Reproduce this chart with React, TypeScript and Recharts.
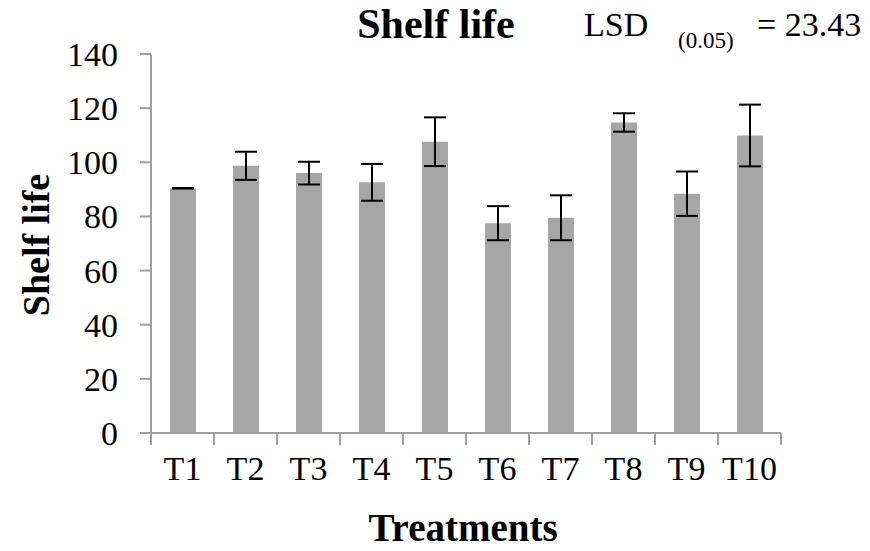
import { BarChart, Bar, XAxis, YAxis, ErrorBar } from "recharts";

const treatments = ["T1", "T2", "T3", "T4", "T5", "T6", "T7", "T8", "T9", "T10"];
const shelfLife = [90.4, 98.7, 96.0, 92.6, 107.6, 77.5, 79.5, 114.7, 88.4, 109.9];
const errors = [0.1, 5.2, 4.2, 6.8, 9.0, 6.3, 8.3, 3.4, 8.2, 11.4];
const yTicks = [0, 20, 40, 60, 80, 100, 120, 140];

const data = treatments.map((t, i) => ({ name: t, value: shelfLife[i], err: errors[i] }));

const SERIF = '"Liberation Serif", "Times New Roman", serif';
const AXIS = "#a0a0a0";
const PLOT_BOTTOM = 433;

function CategoryTick(props: any) {
  const { x, payload, index } = props;
  const half = payload?.offset || 31.5;
  return (
    <g>
      <line x1={x - half} y1={PLOT_BOTTOM} x2={x - half} y2={PLOT_BOTTOM + 12} stroke={AXIS} strokeWidth={2} />
      {index === treatments.length - 1 && (
        <line x1={x + half} y1={PLOT_BOTTOM} x2={x + half} y2={PLOT_BOTTOM + 12} stroke={AXIS} strokeWidth={2} />
      )}
      <text x={x} y={480} textAnchor="middle" fontFamily={SERIF} fontSize={34} fill="#000">
        {payload.value}
      </text>
    </g>
  );
}

const textBase = {
  position: "absolute" as const,
  fontFamily: SERIF,
  whiteSpace: "nowrap" as const,
  lineHeight: 1,
  color: "#000",
};

export default function App() {
  return (
    <div style={{ position: "absolute", left: 0, top: 0, width: 870, height: 551, background: "#fff" }}>
      <BarChart
        width={870}
        height={551}
        data={data}
        margin={{ top: 54, right: 89, left: 0, bottom: 0 }}
      >
        <XAxis
          dataKey="name"
          height={118}
          tickLine={false}
          axisLine={{ stroke: AXIS, strokeWidth: 2 }}
          tick={<CategoryTick />}
          interval={0}
        />
        <YAxis
          width={151}
          domain={[0, 140]}
          ticks={yTicks}
          tickSize={11}
          tickMargin={22}
          tickLine={{ stroke: AXIS, strokeWidth: 2 }}
          axisLine={{ stroke: AXIS, strokeWidth: 2 }}
          tick={{ fontFamily: SERIF, fontSize: 34, fill: "#000" }}
        />
        <Bar dataKey="value" fill="#a6a6a6" barSize={26} isAnimationActive={false}>
          <ErrorBar dataKey="err" width={11} stroke="#000" strokeWidth={2} isAnimationActive={false} />
        </Bar>
      </BarChart>
      <div style={{ ...textBase, left: 436, top: 3, transform: "translateX(-50%)", fontWeight: "bold", fontSize: 42 }}>
        Shelf life
      </div>
      <div style={{ ...textBase, left: 584, top: 8, fontSize: 34 }}>LSD</div>
      <div style={{ ...textBase, left: 678, top: 29, fontSize: 23 }}>(0.05)</div>
      <div style={{ ...textBase, left: 757, top: 8, fontSize: 34 }}>= 23.43</div>
      <div
        style={{
          ...textBase,
          left: 36,
          top: 245,
          transform: "translate(-50%, -50%) rotate(-90deg)",
          fontWeight: "bold",
          fontSize: 38,
        }}
      >
        Shelf life
      </div>
      <div style={{ ...textBase, left: 463, top: 508, transform: "translateX(-50%)", fontWeight: "bold", fontSize: 39 }}>
        Treatments
      </div>
    </div>
  );
}
